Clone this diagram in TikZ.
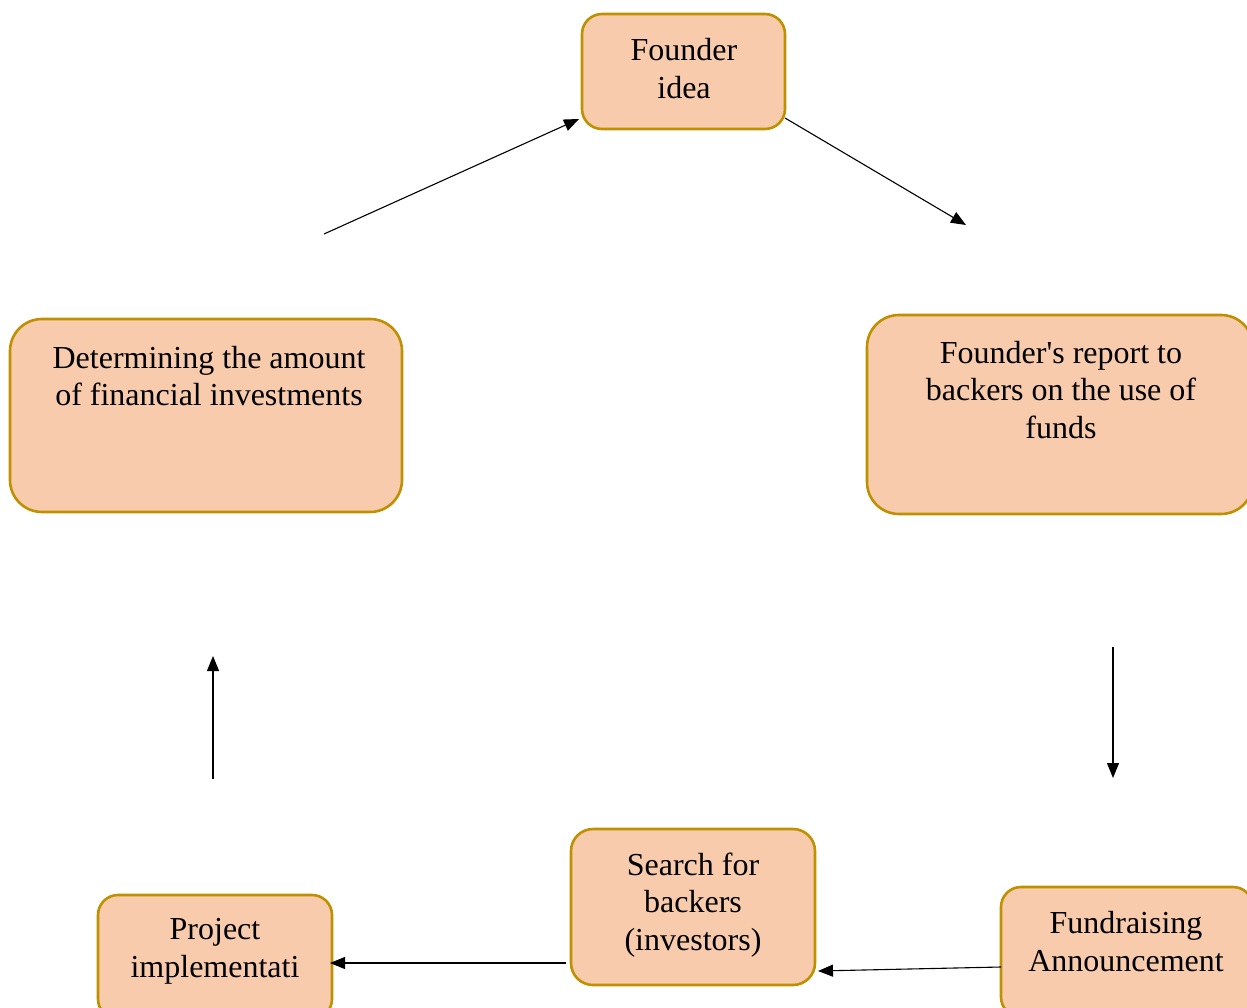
\documentclass[tikz,border=0pt]{standalone}
\usepackage{fontspec}
\setmainfont{Liberation Serif}
\usetikzlibrary{arrows.meta}
\definecolor{boxfill}{HTML}{F7CBAC}
\definecolor{boxline}{HTML}{BF9000}
\begin{document}
\begin{tikzpicture}[x=1pt,y=-1pt,
  box/.style={draw=boxline,fill=boxfill,line width=2.6pt,rounded corners=#1,inner sep=0pt},
  box/.default=20pt,
  txt/.style={align=center,font=\fontsize{32}{37.5}\selectfont,inner sep=0pt},
  conn/.style={line width=1.1pt,-{Triangle[length=15pt,width=12pt]}}]
\useasboundingbox (0,0) rectangle (1247,1008);
\begin{scope}
\clip (0,0) rectangle (1247,1008);
% boxes
\node[box=20pt,minimum width=203pt,minimum height=115pt] (idea) at (683.5,71.5) {};
\node[box=32pt,minimum width=386pt,minimum height=199pt] (report) at (1060,414.5) {};
\node[box=32pt,minimum width=392pt,minimum height=193pt] (determ) at (206,415.5) {};
\node[box=22pt,minimum width=244pt,minimum height=156pt] (search) at (693,907) {};
\node[box=20pt,minimum width=234pt,minimum height=124pt] (project) at (215,957) {};
\node[box=20pt,minimum width=252pt,minimum height=130pt] (fund) at (1127,952) {};
\end{scope}
% texts
\node[txt] (ideaT) at (684,68.5) {Founder\\idea};
\node[txt] (reportT) at (1061,390) {Founder\textquotesingle s report to\\backers on the use of\\funds};
\node[txt] (determT) at (209,376) {Determining the amount\\of financial investments};
\node[txt] (searchT) at (693,905) {Search for\\backers\\(investors)};
\node[txt] (projectT) at (215,951.5) {Project\\implementati};
\node[txt] (fundT) at (1126,941.5) {Fundraising\\Announcement};
% connector endpoints
\coordinate (a1) at (324,234);
\coordinate (a2) at (579,119);
\coordinate (b1) at (785,118);
\coordinate (b2) at (966,225);
\coordinate (c1) at (1113,647);
\coordinate (c2) at (1113,778);
\coordinate (d1) at (1001,967);
\coordinate (d2) at (818,971);
\coordinate (e1) at (566,963);
\coordinate (e2) at (330,963);
\coordinate (f1) at (213,779);
\coordinate (f2) at (213,656);
\draw[conn] (a1) -- (a2);
\draw[conn] (b1) -- (b2);
\draw[conn] (c1) -- (c2);
\draw[conn] (d1) -- (d2);
\draw[conn] (e1) -- (e2);
\draw[conn] (f1) -- (f2);
\end{tikzpicture}
\end{document}
